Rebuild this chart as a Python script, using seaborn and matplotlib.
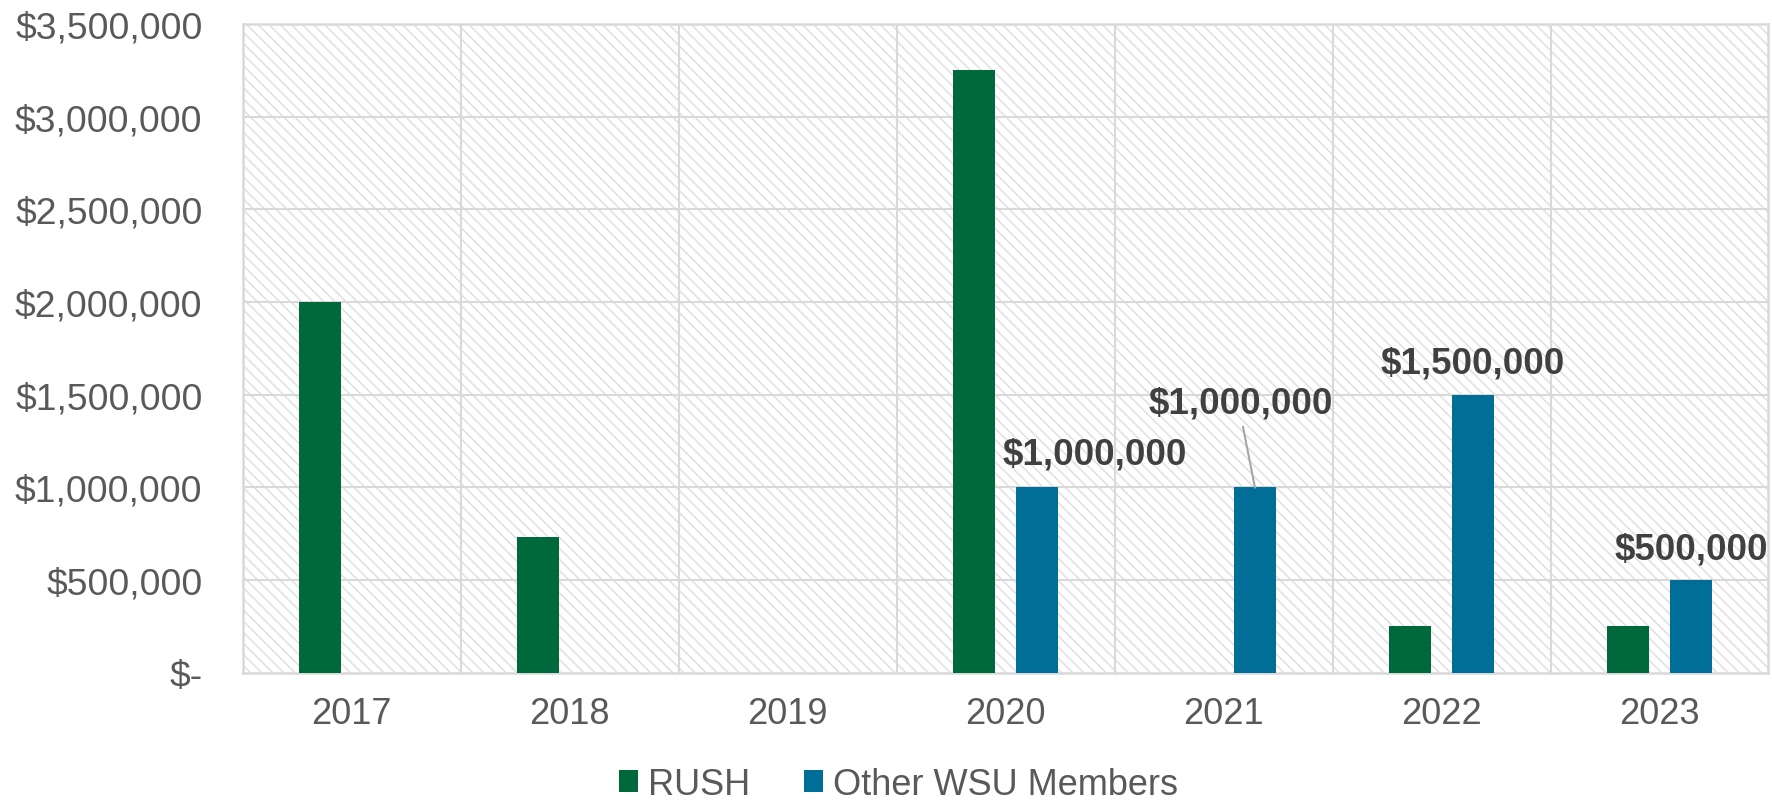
import matplotlib
matplotlib.use("Agg")
import pandas as pd
import matplotlib.pyplot as plt
import matplotlib.ticker as mticker
from matplotlib.patches import Rectangle
import seaborn as sns

# chart data
years = ["2017", "2018", "2019", "2020", "2021", "2022", "2023"]
rush = [2000000, 730000, 0, 3250000, 0, 250000, 250000]
other_wsu = [0, 0, 0, 1000000, 1000000, 1500000, 500000]
series_names = ["RUSH", "Other WSU Members"]
colors = ["#00693c", "#006e96"]

# labelled Other WSU bars
label_years = [3, 4, 5, 6]
label_values = [1000000, 1000000, 1500000, 500000]

df = pd.DataFrame({
    "year": years * 2,
    "value": rush + other_wsu,
    "series": [series_names[0]] * len(years) + [series_names[1]] * len(years),
})

sns.set_theme(style="white")
plt.rcParams["font.family"] = ["Liberation Sans", "DejaVu Sans"]
plt.rcParams["hatch.linewidth"] = 1.1

fig = plt.figure(figsize=(17.72, 8.03), dpi=100)
ax = fig.add_axes([0.137, 0.161, 0.861, 0.808])

# hatched plot background
ax.add_patch(Rectangle((0, 0), 1, 1, transform=ax.transAxes, facecolor="white",
                       edgecolor="#e0e0e0", hatch="\\\\\\", lw=0, zorder=0))

sns.barplot(data=df, x="year", y="value", hue="series", palette=colors,
            width=0.58, gap=0.335, saturation=1, ax=ax, zorder=3,
            edgecolor="none", linewidth=0)

ax.set_xlim(-0.5, 6.5)
ax.set_ylim(0, 3500000)
ax.set_yticks(range(0, 3500001, 500000))
ax.yaxis.set_major_formatter(mticker.FuncFormatter(
    lambda v, p: "$-" if v == 0 else "${:,.0f}".format(v)))
ax.set_xticks(range(len(years)), years)
ax.set_xlabel("")
ax.set_ylabel("")

# gridlines
grid_c = "#d9d9d9"
for v in range(500000, 3500001, 500000):
    ax.axhline(v, color=grid_c, lw=1.5, zorder=1)
for x in [i + 0.5 for i in range(len(years) - 1)]:
    ax.axvline(x, color=grid_c, lw=1.5, zorder=1)
for s in ax.spines.values():
    s.set_visible(True)
    s.set_color(grid_c)
    s.set_linewidth(1.8)

ax.tick_params(axis="both", length=0, labelcolor="#595959")
ax.tick_params(axis="y", pad=29, labelsize=26.8)
ax.tick_params(axis="x", pad=17, labelsize=26)

# data labels for Other WSU Members
lab_pos = [(3.41, 1181000), (4.08, 1456000), (5.145, 1672000), (6.145, 669000)]
for i, val, (lx, ly) in zip(label_years, label_values, lab_pos):
    ax.text(lx, ly, "${:,.0f}".format(val), ha="center", va="center",
            fontsize=26.5, fontweight="bold", color="#404040", zorder=5)
# leader line for 2021
ax.plot([4.089, 4.144], [1327000, 998000], color="#a6a6a6", lw=1.5, zorder=4)

# legend
handles, labels = ax.get_legend_handles_labels()
ax.legend(handles, labels, loc="lower center", bbox_to_anchor=(0.507, -0.02),
          bbox_transform=fig.transFigure, ncol=2, frameon=False, fontsize=26,
          handlelength=0.52, handleheight=0.52, handletextpad=0.28,
          columnspacing=1.5, labelcolor="#595959", borderaxespad=0.05)

fig.savefig("out.png", dpi=100)
